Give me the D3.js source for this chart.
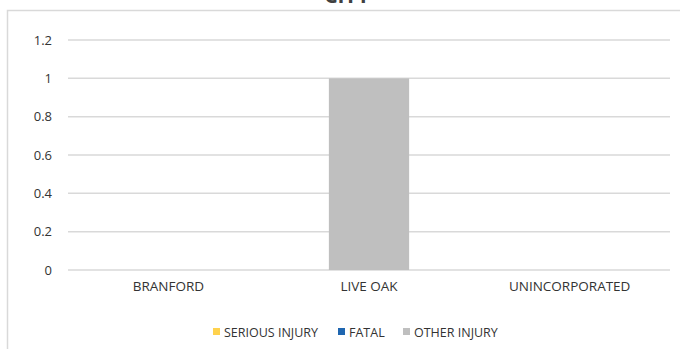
<!DOCTYPE html>
<html>
<head>
<meta charset="utf-8">
<script src="https://cdn.jsdelivr.net/npm/d3@7"></script>
<style>
  html, body { margin: 0; padding: 0; background: #fff; }
  svg { display: block; }
  text { font-family: "Open Sans", "Noto Sans", sans-serif; }
</style>
</head>
<body>
<svg id="chart" width="680" height="349"></svg>
<script>
const categories = ["BRANFORD", "LIVE OAK", "UNINCORPORATED"];
const seriesNames = ["SERIOUS INJURY", "FATAL", "OTHER INJURY"];
const seriousInjury = [0, 0, 0];
const fatal = [0, 0, 0];
const otherInjury = [0, 1, 0];
const yTicks = [0, 0.2, 0.4, 0.6, 0.8, 1, 1.2];
const colors = ["#FFD24D", "#1F66B0", "#BFBFBF"];

const svg = d3.select("#chart");
const textColor = "#333333";

// outer chart border (partially cropped)
svg.append("rect")
  .attr("x", 7.5).attr("y", 10.5)
  .attr("width", 700).attr("height", 400)
  .attr("fill", "#fff").attr("stroke", "#d9d9d9").attr("stroke-width", 1.5);

// title (cropped at top, as in the reference)
svg.append("text")
  .attr("x", 347).attr("y", 3)
  .attr("text-anchor", "middle")
  .attr("font-size", 21).attr("font-weight", "bold")
  .attr("fill", "#404040")
  .text("CITY");

const plot = { left: 68, right: 670, top: 40, bottom: 270 };

const x = d3.scaleBand().domain(categories)
  .range([plot.left, plot.right]).paddingInner(0).paddingOuter(0);
const y = d3.scaleLinear().domain([0, 1.2]).range([plot.bottom, plot.top]);

// gridlines
svg.append("g").selectAll("line").data(yTicks).join("line")
  .attr("x1", plot.left).attr("x2", plot.right)
  .attr("y1", d => y(d)).attr("y2", d => y(d))
  .attr("stroke", "#d9d9d9").attr("stroke-width", 1.5);

// y axis labels
const yAxis = d3.axisLeft(y).tickValues(yTicks).tickSize(0).tickPadding(16)
  .tickFormat(d => String(d));
const gy = svg.append("g").attr("transform", `translate(${plot.left},0)`).call(yAxis);
gy.select(".domain").remove();
gy.selectAll("text").attr("font-size", 13).attr("fill", textColor)
  .attr("font-family", "'Open Sans', 'Noto Sans', sans-serif");

// stacked data
const table = categories.map((c, i) => ({
  cat: c,
  "SERIOUS INJURY": seriousInjury[i],
  "FATAL": fatal[i],
  "OTHER INJURY": otherInjury[i]
}));
const stacked = d3.stack().keys(seriesNames)(table);
const barW = x.bandwidth() * 0.4;

svg.append("g").selectAll("g").data(stacked).join("g")
  .attr("fill", (d, i) => colors[i])
  .selectAll("rect").data(d => d).join("rect")
  .attr("x", d => x(d.data.cat) + (x.bandwidth() - barW) / 2)
  .attr("width", barW)
  .attr("y", d => y(d[1]))
  .attr("height", d => y(d[0]) - y(d[1]));

// x axis labels
const xAxis = d3.axisBottom(x).tickSize(0).tickPadding(11);
const gx = svg.append("g").attr("transform", `translate(0,${plot.bottom})`).call(xAxis);
gx.select(".domain").remove();
gx.selectAll("text").attr("font-size", 13.5).attr("fill", textColor)
  .attr("font-family", "'Open Sans', 'Noto Sans', sans-serif");

// legend
const legendX = [213, 338, 403];
const lg = svg.append("g");
seriesNames.forEach((name, i) => {
  lg.append("rect").attr("x", legendX[i]).attr("y", 328)
    .attr("width", 7).attr("height", 7).attr("fill", colors[i]);
  lg.append("text").attr("x", legendX[i] + 11).attr("y", 336.5)
    .attr("font-size", 12.5).attr("fill", textColor)
    .text(name);
});
</script>
</body>
</html>
